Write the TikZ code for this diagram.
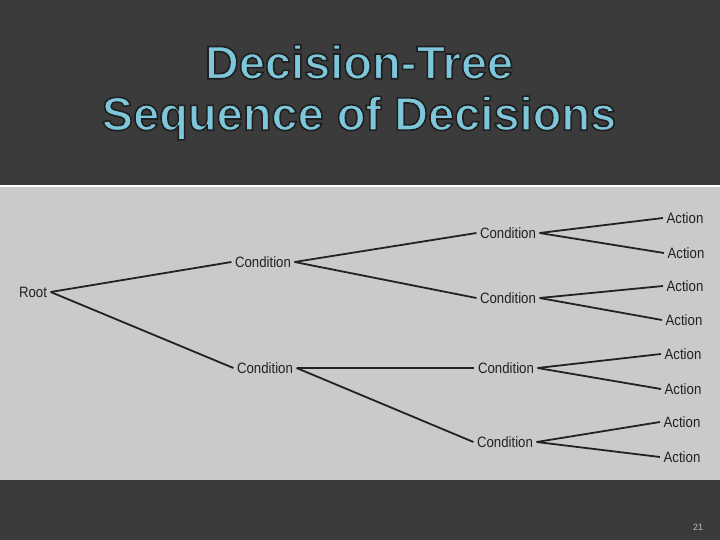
\documentclass[tikz,border=0pt]{standalone}
\usepackage{fontspec}
\setmainfont{Liberation Sans}
\newfontfamily\condfont[FakeStretch=0.88]{Liberation Sans}
\usepackage{tikz}
\usetikzlibrary{positioning}

\definecolor{slidebg}{RGB}{59,59,59}
\definecolor{panelgray}{RGB}{202,202,202}
\definecolor{titleblue}{RGB}{126,198,218}
\definecolor{inkline}{RGB}{34,34,34}

% fill and stroke the glyphs, for the dark edge round the title
\newcommand{\outlined}[1]{%
  \special{pdf:literal direct 2 Tr 1.6 w 0.12 0.12 0.12 RG}#1\special{pdf:literal direct 0 Tr}}

\tikzset{
  treenode/.style={font=\condfont\fontsize{15}{15}\selectfont, text=inkline, inner sep=3.5pt},
  branch/.style={draw=inkline, line width=1.8pt},
  titletext/.style={font=\bfseries\fontsize{47}{47}\selectfont, text=titleblue}
}

\begin{document}
\begin{tikzpicture}[x=1pt,y=-1pt]
  % slide and picture panel
  \fill[slidebg] (0,0) rectangle (720,540);
  \useasboundingbox (0,0) rectangle (720,540);
  \fill[panelgray] (0,187) rectangle (720,480);
  \draw[white, line width=1.5pt] (0,186) -- (720,186);

  % title, outlined
  \node[titletext] (title1) at (359,62) {\outlined{Decision-Tree}};
  \node[titletext] (title2) at (359,118) {\outlined{Sequence of Decisions}};

  % tree nodes
  \node[treenode] (root) at (33,292) {Root};
  \node[treenode] (c1) at (263,262) {Condition};
  \node[treenode] (c2) at (265,368) {Condition};
  \node[treenode] (c3) at (508,233) {Condition};
  \node[treenode] (c4) at (508,298) {Condition};
  \node[treenode] (c5) at (506,368) {Condition};
  \node[treenode] (c6) at (505,442) {Condition};

  % actions, two per condition
  \foreach \i/\x/\y in {1/685/218, 2/686/253, 3/685/286, 4/684/320,
                        5/683/354, 6/683/389, 7/682/422, 8/682/457}
    \node[treenode] (a\i) at (\x,\y) {Action};

  % branches
  \draw[branch] (root.east) -- (c1.west);
  \draw[branch] (root.east) -- (c2.west);
  \draw[branch] (c1.east) -- (c3.west);
  \draw[branch] (c1.east) -- (c4.west);
  \draw[branch] (c2.east) -- (c5.west);
  \draw[branch] (c2.east) -- (c6.west);
  \foreach \c/\u/\l in {c3/a1/a2, c4/a3/a4, c5/a5/a6, c6/a7/a8} {
    \draw[branch] (\c.east) -- (\u.west);
    \draw[branch] (\c.east) -- (\l.west);
  }

  % slide number
  \node[font=\fontsize{9}{9}\selectfont, text=white!75!black] (pagenum) at (698,527) {21};
\end{tikzpicture}
\end{document}
